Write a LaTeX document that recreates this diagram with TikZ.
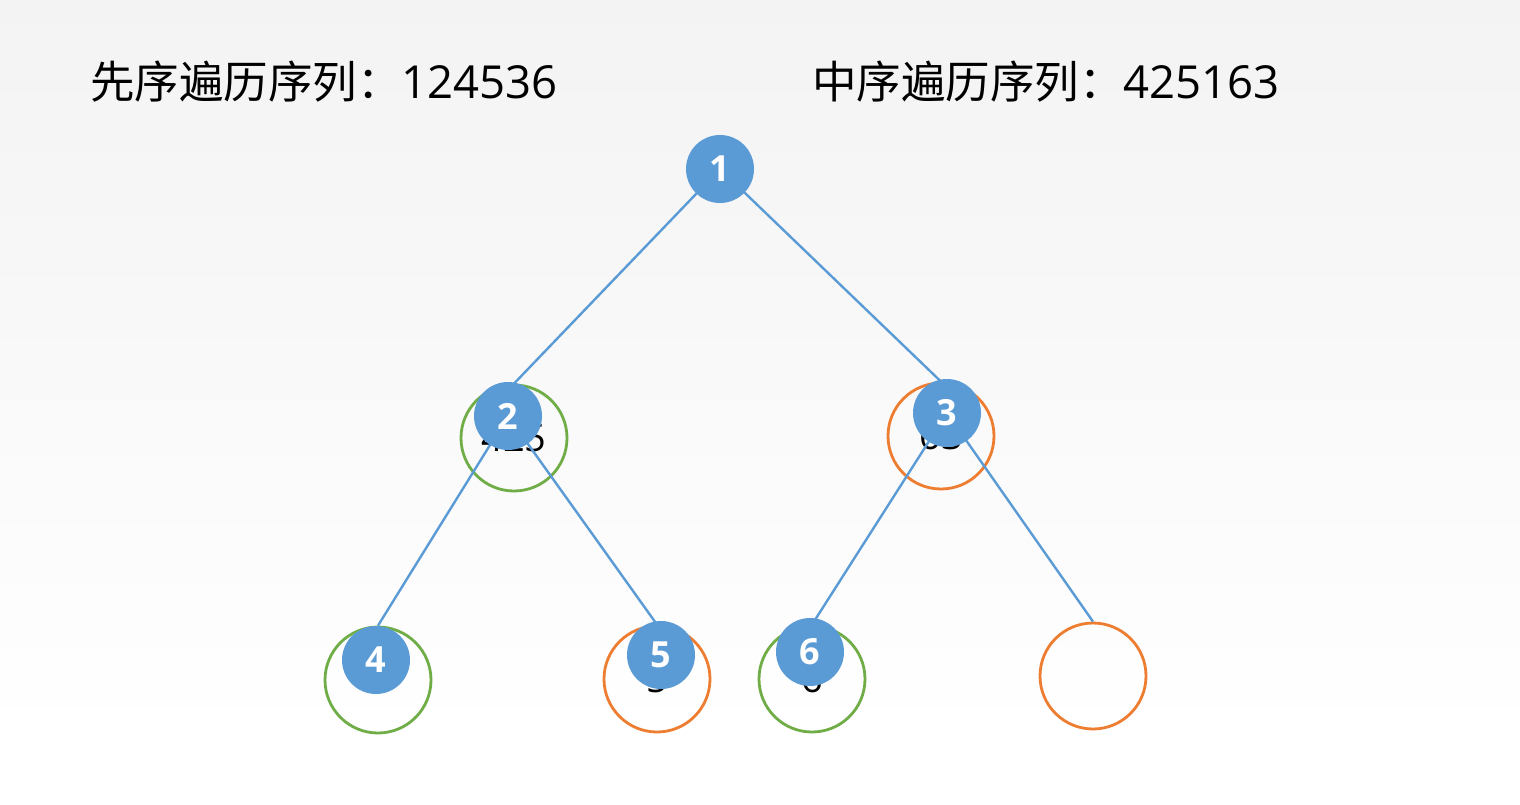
\documentclass[tikz,border=0pt]{standalone}
\usepackage{fontspec}
\setmainfont{Noto Sans CJK SC}
\newfontfamily\numfont{Open Sans}
\definecolor{nblue}{RGB}{91,155,213}
\definecolor{ngreen}{RGB}{112,173,71}
\definecolor{norange}{RGB}{237,125,49}
\definecolor{bgtop}{RGB}{243,243,243}
\pgfdeclarelayer{back}
\pgfdeclarelayer{mid}
\pgfsetlayers{back,mid,main}
\begin{document}
\begin{tikzpicture}[x=1pt,y=-1pt,
  ring/.style={circle,draw=#1,line width=2.8pt,minimum size=106pt,inner sep=0pt},
  hid/.style={font=\numfont\fontsize{38}{40}\selectfont,text=black,inner sep=0pt},
  bnode/.style={circle,fill=nblue,minimum size=68pt,inner sep=0pt,text=white,font=\numfont\bfseries\fontsize{36}{38}\selectfont},
  edge/.style={draw=nblue,line width=2.4pt},
  title/.style={anchor=base west,inner sep=0pt,font=\fontsize{44.5}{47}\selectfont}]
\begin{pgfonlayer}{back}
\useasboundingbox (0,0) rectangle (1520,804);
\fill[white] (0,0) rectangle (1520,804);
\shade[top color=bgtop,bottom color=white] (0,0) rectangle (1520,738);
% rings
\node[ring=ngreen] (r2) at (514,438) {};
\node[ring=norange] (r3) at (941,436) {};
\node[ring=ngreen] (r4) at (378,680) {};
\node[ring=norange] (r5) at (657,679) {};
\node[ring=ngreen] (r6) at (812,679) {};
\node[ring=norange] (r7) at (1093,676) {};
% hidden texts
\node[hid] (h2) at (514,438) {425};
\node[hid] (h3) at (941,436) {63};
\node[hid] (h4) at (378,680) {4};
\node[hid] (h5) at (657,679) {5};
\node[hid] (h6) at (812,679) {6};
\end{pgfonlayer}
% titles
\node[title] (t1) at (90,98) {先序遍历序列：{\numfont\fontsize{45.5}{47}\selectfont 124536}};
\node[title] (t2) at (812,98) {中序遍历序列：{\numfont\fontsize{45.5}{47}\selectfont 425163}};
% blue nodes
\node[bnode] (n1) at (720,169) {1};
\node[bnode] (n2) at (508,416) {2};
\node[bnode] (n3) at (947,413) {3};
\node[bnode] (n4) at (376,660) {4};
\node[bnode] (n5) at (661,655) {5};
\node[bnode] (n6) at (810,652) {6};
% edges
\begin{pgfonlayer}{mid}
\draw[edge] (n1.center) -- (r2.north);
\draw[edge] (n1.center) -- (r3.north);
\draw[edge] (n2.center) -- (r4.north);
\draw[edge] (n2.center) -- (r5.north);
\draw[edge] (n3.center) -- (r6.north);
\draw[edge] (n3.center) -- (r7.north);
\end{pgfonlayer}
\end{tikzpicture}
\end{document}
